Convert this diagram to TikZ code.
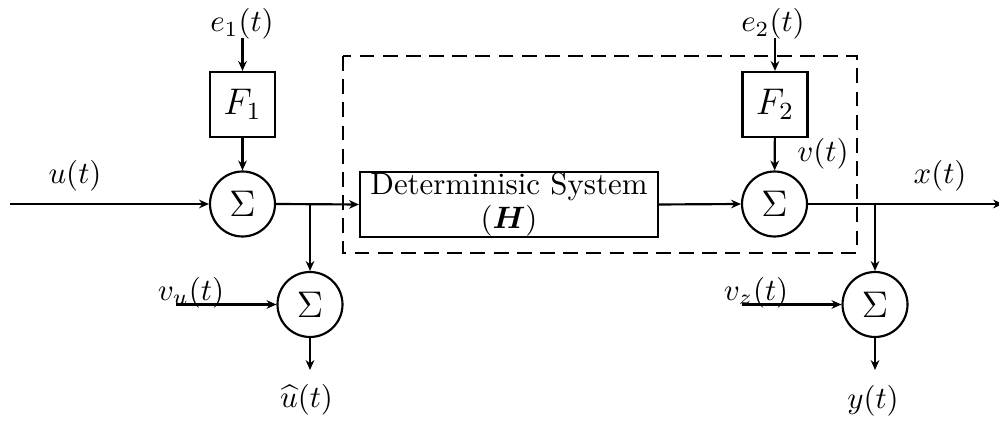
\documentclass[tikz,border=0pt]{standalone}
\usepackage{amsmath}
\usetikzlibrary{arrows.meta}
\begin{document}
\begin{tikzpicture}[x=0.3236pt,y=-0.3236pt,
  line width=0.7pt,
  sumnode/.style={draw,circle,minimum size=21.03pt,inner sep=0pt,font=\large},
  fbox/.style={draw,rectangle,minimum size=21.03pt,inner sep=0pt,font=\large},
  lbl/.style={inner sep=0pt},
  arr/.style={-{Stealth[length=3.2pt,width=2.8pt]}},
  dbox/.style={draw,dash pattern=on 4.8pt off 2.7pt}]
\useasboundingbox (0,0) rectangle (999,421);
% dashed box
\draw[dbox] (343,56) rectangle (857,253);
% nodes
\node[sumnode] (s1) at (242.5,204) {$\Sigma$};
\node[fbox] (f1) at (242.5,104.5) {$F_1$};
\node[sumnode] (s3) at (310,304.5) {$\Sigma$};
\node[draw,rectangle,minimum width=96.43pt,minimum height=21.03pt,inner sep=0pt,
      align=center,font=\fontsize{10}{10.7}\selectfont] (det) at (509,204.5)
      {\raisebox{-1.2pt}{Determinisic System}\\ \raisebox{-1.2pt}{$(\boldsymbol{H})$}};
\node[sumnode] (s2) at (774.5,204) {$\Sigma$};
\node[fbox] (f2) at (775,104.5) {$F_2$};
\node[sumnode] (s4) at (875,304.5) {$\Sigma$};
% labels
\node[lbl] (e1) at (242,24) {$e_1(t)$};
\node[lbl] (e2) at (773,24) {$e_2(t)$};
\node[lbl] (ul) at (75,175.5) {$u(t)$};
\node[lbl] (vul) at (191,292.5) {$v_u(t)$};
\node[lbl] (uhat) at (306.5,399.5) {$\widehat{u}(t)$};
\node[lbl] (vl) at (823,154) {$v(t)$};
\node[lbl] (xl) at (940,175.5) {$x(t)$};
\node[lbl] (vzl) at (756,292.5) {$v_z(t)$};
\node[lbl] (yl) at (873,400.5) {$y(t)$};
% coordinates
\coordinate (uin) at (10,204);
\coordinate (j1) at (310,204);
\coordinate (j2) at (875,204);
\coordinate (xout) at (1003,204);
\coordinate (vuin) at (176,304.5);
\coordinate (vzin) at (742,304.5);
\coordinate (e1t) at (242.5,38);
\coordinate (e2t) at (775,38);
\coordinate (uo) at (310,370);
\coordinate (yo) at (875,370);
% connectors
\draw[arr] (e1t) -- (f1.north);
\draw[arr] (f1) -- (s1);
\draw[arr] (uin) -- (s1.west);
\draw[arr] (s1.east) -- (det.west);
\draw[arr] (j1) -- (s3.north);
\draw[arr] (vuin) -- (s3.west);
\draw[arr] (s3.south) -- (uo);
\draw[arr] (det.east) -- (s2.west);
\draw[arr] (e2t) -- (f2.north);
\draw[arr] (f2) -- (s2);
\draw[arr] (s2.east) -- (xout);
\draw[arr] (j2) -- (s4.north);
\draw[arr] (vzin) -- (s4.west);
\draw[arr] (s4.south) -- (yo);
\end{tikzpicture}
\end{document}
